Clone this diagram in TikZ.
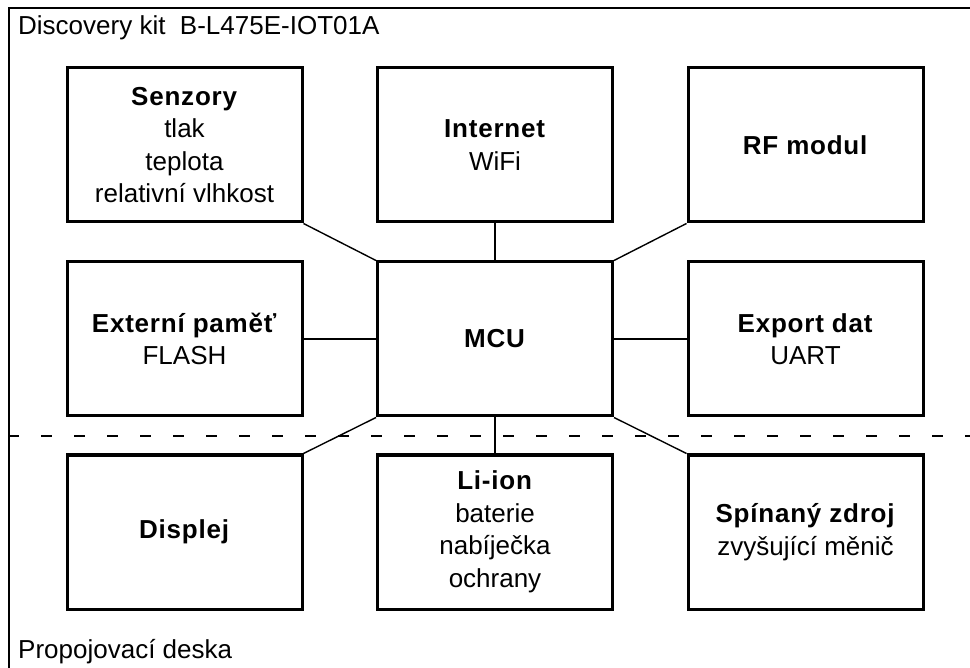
\documentclass[tikz,border=0pt]{standalone}
\usepackage{fontspec}
\setmainfont{Liberation Sans}[BoldFeatures={LetterSpace=3}]
\begin{document}
\begin{tikzpicture}[x=1pt,y=-1pt,
  blk/.style={draw=black,line width=3pt,minimum width=235pt,minimum height=154pt,
    align=center,inner sep=0pt,font=\fontsize{26}{32.5}\selectfont},
  conn/.style={line width=1.4pt},
  frame/.style={line width=1.4pt},
  lbl/.style={anchor=base west,inner sep=0pt,font=\fontsize{26}{32.5}\selectfont}]
\useasboundingbox (0,0) rectangle (970,668);
\fill[white] (0,0) rectangle (970,668);
% frame and separator
\draw[frame] (970,8) -- (9,8) -- (9,668);
\draw[line width=1.4pt,dash pattern=on 11pt off 22pt] (8,436) -- (970,436);
\node[lbl] (kit) at (18,35) {Discovery kit\ \ B-L475E-IOT01A};
\node[lbl] (desk) at (18,658) {Propojovací deska};
% blocks
\node[blk] (sen) at (184.5,145) {\textbf{Senzory}\\tlak\\teplota\\relativní vlhkost};
\node[blk] (net) at (495,145) {\textbf{Internet}\\WiFi};
\node[blk] (rf)  at (805.5,145) {\textbf{RF modul}};
\node[blk] (ext) at (184.5,339) {\textbf{Externí paměť}\\FLASH};
\node[blk] (mcu) at (495,339) {\textbf{MCU}};
\node[blk] (exp) at (805.5,339) {\textbf{Export dat}\\UART};
\node[blk] (dis) at (184.5,532) {\textbf{Displej}};
\node[blk] (li)  at (495,532) {\textbf{Li-ion}\\baterie\\nabíječka\\ochrany};
\node[blk] (sp)  at (805.5,532) {\textbf{Spínaný zdroj}\\zvyšující měnič};
% connectors
\draw[conn] (sen.south east) -- (mcu.north west);
\draw[conn] (net.south) -- (mcu.north);
\draw[conn] (rf.south west) -- (mcu.north east);
\draw[conn] (ext.east) -- (mcu.west);
\draw[conn] (exp.west) -- (mcu.east);
\draw[conn] (dis.north east) -- (mcu.south west);
\draw[conn] (li.north) -- (mcu.south);
\draw[conn] (sp.north west) -- (mcu.south east);
\end{tikzpicture}
\end{document}
